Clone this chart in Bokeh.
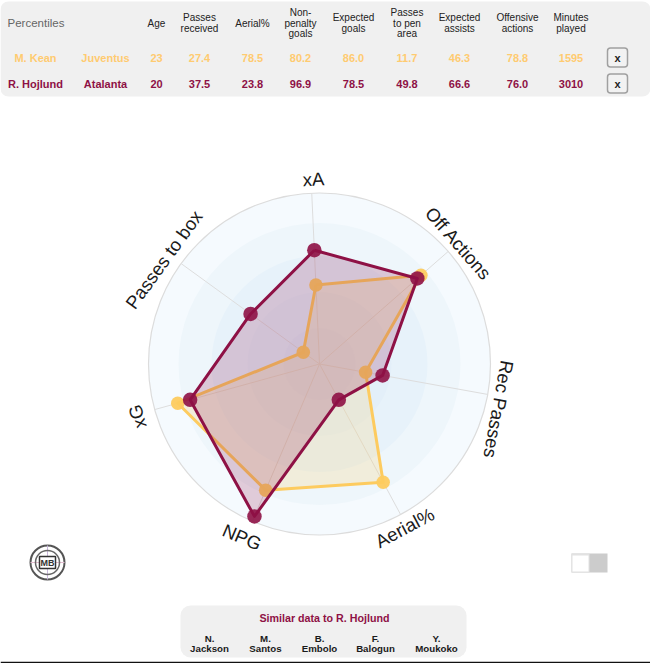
import math
from bokeh.plotting import figure
from bokeh.models import BoxAnnotation, Range1d
from bokeh.core.properties import value
from bokeh.embed import file_html
from bokeh.resources import INLINE

axis_labels = ["xA", "Off Actions", "Rec Passes", "Aerial%", "NPG", "xG", "Passes to box"]
kean_radar = [46.3, 78.8, 27.4, 78.5, 80.2, 86.0, 11.7]
hojlund_radar = [66.6, 76.0, 37.5, 23.8, 96.9, 78.5, 49.8]

headers = [["Age"], ["Passes", "received"], ["Aerial%"], ["Non-", "penalty", "goals"],
           ["Expected", "goals"], ["Passes", "to pen", "area"], ["Expected", "assists"],
           ["Offensive", "actions"], ["Minutes", "played"]]
header_x = [156, 199, 252, 300, 353, 406.5, 459, 517, 570.5]
kean_row = ["M. Kean", "Juventus", "23", "27.4", "78.5", "80.2", "86.0", "11.7", "46.3", "78.8", "1595"]
hojlund_row = ["R. Hojlund", "Atalanta", "20", "37.5", "23.8", "96.9", "78.5", "49.8", "66.6", "76.0", "3010"]
similar_first = ["N.", "M.", "B.", "F.", "Y."]
similar_last = ["Jackson", "Santos", "Embolo", "Balogun", "Moukoko"]
similar_x = [209, 265, 319, 375, 436]
rings = [171, 141, 108, 72, 36]
ring_colors = ["#f5fafe", "#eef6fb", "#e7f2fa", "#e3eff9", "#dfecf8"]
label_dx = [2.5, -1, -4, -3, -4.5, -3, -5]
label_dy = [1, 2, 12, 0, 2, 3, 5]

GOLD = "#fdcb5f"
GOLD_TXT = "#ffcb70"
WINE = "#8e1145"
FONT = value("Liberation Sans")
CX, CY, R = 319.0, 363.5, 171.0
ROT = -2.6

p = figure(width=650, height=663, output_backend="svg", toolbar_location=None,
           x_range=Range1d(0, 650), y_range=Range1d(663, 0), min_border=0,
           outline_line_color=None, margin=(0, 0, 0, 0))
p.axis.visible = False
p.grid.visible = False
p.background_fill_color = "white"

def panel(l, r, t, b, rad, fill="#f0f0f0", line=None, lw=1):
    p.add_layout(BoxAnnotation(left=l, right=r, top=t, bottom=b, fill_color=fill, fill_alpha=1,
                               line_color=line, line_width=lw, line_alpha=1, border_radius=rad, level="underlay"))

def txt(x, y, s, color, size="10px", style="normal", align="center", angle=0):
    p.text([x], [y], text=[s], text_color=color, text_font=FONT, text_font_size=size,
           text_font_style=style, text_align=align, text_baseline="middle", angle=angle, angle_units="deg")

panel(0, 650, 1, 96, 8)
panel(180, 466, 605, 657, 10)

# bottom rule
p.line([0, 650], [662, 662], line_color="#111111", line_width=1.5)

# table
txt(7, 22, "Percentiles", "#666666", "11.5px", "normal", "left")
for xs, lines in zip(header_x, headers):
    n = len(lines)
    for i, s in enumerate(lines):
        txt(xs, 22.7 + (i - (n - 1) / 2) * 10.6, s, "#222222", "10px")
row_x = [35, 105] + header_x
for row, y, col in ((kean_row, 57, GOLD_TXT), (hojlund_row, 83, WINE)):
    for xs, s in zip(row_x, row):
        txt(xs, y, s, col, "11px", "bold")
    panel(607, 627, y - 9.5, y + 9.5, 3, "#f2f2f2", "#a0a0a0", 1.5)
    txt(617, y, "x", "#222222", "11px", "bold")

# radar rings
for r, c in zip(rings, ring_colors):
    p.circle([CX], [CY], radius=r, fill_color=c, line_color=None)
p.circle([CX], [CY], radius=R, fill_color=None, line_color="#dcdcdc", line_width=1.2)

n = len(axis_labels)
theta = [math.radians(ROT + 360 * i / n) for i in range(n)]
for t in theta:
    p.line([CX, CX + R * math.sin(t)], [CY, CY - R * math.cos(t)], line_color="#dddddd", line_width=1)

def series(vals, color, malpha, size):
    xs = [CX + v / 100 * R * math.sin(t) for v, t in zip(vals, theta)]
    ys = [CY - v / 100 * R * math.cos(t) for v, t in zip(vals, theta)]
    p.patch(xs, ys, fill_color=color, fill_alpha=0.2, line_color=None)
    p.line(xs + xs[:1], ys + ys[:1], line_color=color, line_width=3, line_join="round")
    p.scatter(xs, ys, size=size, fill_color=color, fill_alpha=malpha, line_color=None)

series(kean_radar, GOLD, 0.95, 13.5)
series(hojlund_radar, WINE, 0.9, 14.5)

# axis labels
for lab, t, dx, dy in zip(axis_labels, theta, label_dx, label_dy):
    d = math.degrees(t) % 360
    rot = d if d < 130 or d > 240 else d - 180
    if rot > 180:
        rot -= 360
    off = R + 15
    txt(CX + off * math.sin(t) + dx, CY - off * math.cos(t) + dy, lab, "#1a1a1a", "18.5px", "normal", "center", -rot)

# similar panel
txt(324, 617, "Similar data to R. Hojlund", "#8e1145", "10.7px", "bold")
for xs, a, b in zip(similar_x, similar_first, similar_last):
    txt(xs, 637.5, a, "#1a1a1a", "9.7px", "bold")
    txt(xs, 648, b, "#1a1a1a", "9.7px", "bold")

# logo
p.circle([47], [562], radius=17, fill_color="white", line_color="#555555", line_width=2)
p.line([47, 47], [545, 579], line_color="#c9b8dc", line_width=1)
p.line([30, 64], [562, 562], line_color="#e3bcd0", line_width=1)
p.circle([47], [562], radius=12, fill_color=None, line_color="#666666", line_width=1.5)
p.rect([47], [562], width=16, height=12, fill_color="white", line_color="#333333", line_width=1.5)
txt(47, 562, "MB", "#333333", "9px", "bold")

# toggle
p.rect([589], [562.5], width=36, height=19, fill_color="#cccccc", line_color=None)
p.rect([580], [562.5], width=18, height=19, fill_color="#e2e2e2", line_color=None)
p.rect([580], [563], width=16, height=16, fill_color="white", line_color=None)

open("out.html", "w").write(file_html(p, INLINE))
